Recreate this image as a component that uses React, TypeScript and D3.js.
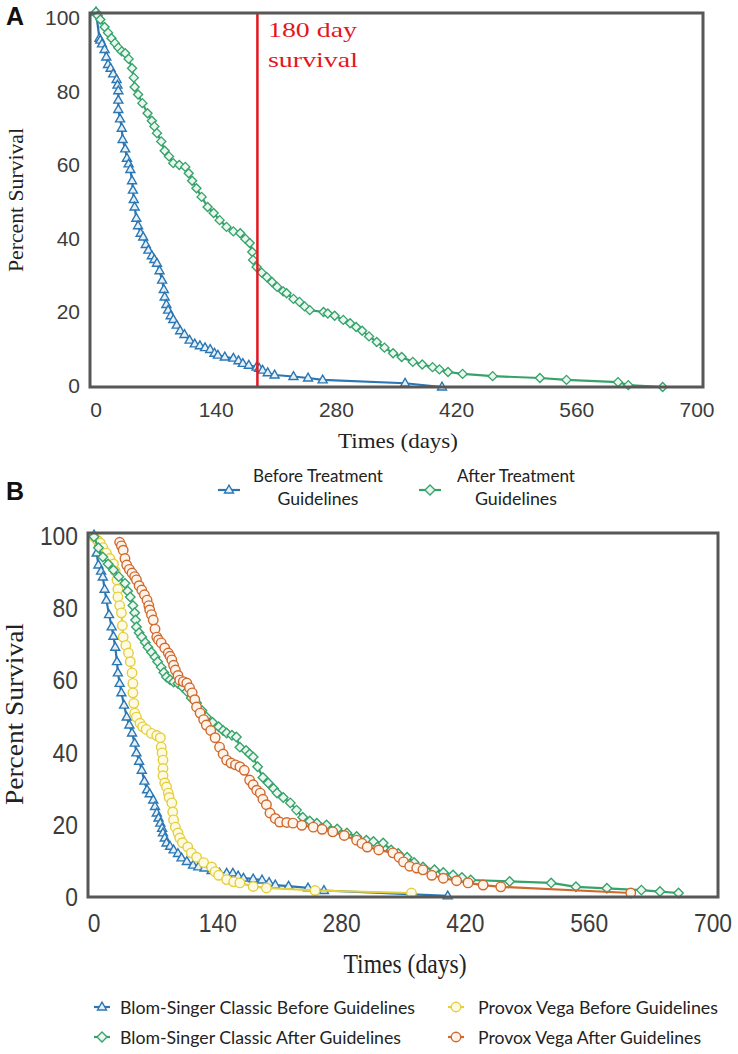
import React from "react";
import * as d3 from "d3";

// ---------- shared ticks ----------
const xTicks = [0, 140, 280, 420, 560, 700];
const yTicks = [0, 20, 40, 60, 80, 100];

// ---------- Panel A data ----------
const aBeforeDays = [0, 4, 5, 7, 10, 12, 14, 17, 20, 24, 25, 26, 26, 26, 28, 30, 31, 34, 36, 38, 40, 42, 43, 44, 45, 47, 49, 52, 55, 58, 61, 65, 68, 71, 74, 77, 79, 80, 82, 84, 87, 90, 94, 98, 103, 109, 115, 121, 127, 133, 138, 142, 150, 160, 166, 171, 178, 187, 190, 194, 200, 208, 230, 247, 264, 360, 403];
const aBeforePct = [100, 93, 92.5, 91.5, 90, 88, 86, 85, 83.5, 82, 80.5, 79, 76.5, 74, 71.5, 69, 66, 63.5, 61, 59.5, 58, 55, 52.5, 50, 48, 45, 43, 41, 40, 38, 36.5, 35, 34, 33, 31, 28.5, 26, 24, 22, 20.5, 19, 18, 16.5, 15, 14, 12.5, 11.5, 11, 10.5, 10, 9, 8.5, 8, 7.7, 7, 6.3, 5.8, 5.3, 5, 4.5, 3.8, 3.2, 2.8, 2.4, 1.9, 1.0, 0];

const aAfterDays = [0, 2, 5, 10, 14, 18, 22, 26, 30, 34, 38, 42, 44, 45, 49, 54, 60, 65, 68, 71, 76, 80, 85, 90, 97, 104, 108, 112, 117, 123, 130, 137, 144, 152, 160, 168, 174, 179, 182, 183, 187, 193, 199, 205, 211, 218, 222, 230, 237, 243, 249, 265, 270, 278, 288, 296, 303, 310, 318, 327, 336, 346, 356, 369, 380, 392, 400, 410, 427, 462, 517, 548, 608, 620, 660];
const aAfterPct = [100, 99, 98, 96, 94.5, 93, 91.7, 90.5, 89.5, 89, 87.5, 85, 82.5, 80, 78, 75.7, 73, 71, 69.5, 67.7, 65.5, 63, 61.5, 59.7, 59.2, 58.7, 57, 55, 53, 50.7, 48, 46.4, 44.5, 42.7, 41.5, 41, 39.5, 38.4, 36, 33.9, 32, 30.5, 29.3, 28, 26.7, 25.5, 25, 23.5, 22.7, 21.5, 20.5, 20, 19.6, 19, 17.9, 17, 16, 15, 13.5, 12, 10.5, 9, 8, 6.7, 6, 5.3, 4.7, 4, 3.5, 2.9, 2.4, 1.9, 1.3, 0.5, 0];

const redLineDay = 188;

// ---------- Panel B data ----------
const bBlueDays = [0, 3, 5, 8, 10, 12, 14, 17, 20, 22, 24, 26, 27, 29, 31, 34, 37, 40, 43, 46, 48, 51, 54, 57, 60, 63, 67, 69, 71, 73, 75, 77, 78, 80, 82, 86, 90, 95, 99, 105, 112, 118, 125, 133, 142, 150, 157, 163, 169, 180, 190, 198, 205, 220, 242, 260, 400];
const bBluePct = [100, 95, 91.7, 90, 88.4, 85, 82, 78, 74.6, 72, 69, 65, 61.9, 59, 56.4, 53, 49.7, 47.5, 45.3, 42.5, 39.8, 37.5, 35, 32, 29.6, 28.5, 26.8, 25, 23.2, 21.8, 20.4, 19, 17.7, 16.3, 14.9, 14, 13, 12, 10.8, 9.8, 8.8, 8.3, 8, 7.3, 6.6, 6.6, 6.6, 5.8, 5.2, 5, 4.7, 4, 3.3, 3, 2.5, 1.8, 0.3];

const bGreenDays = [0, 5, 10, 16, 22, 28, 35, 38, 41, 44, 46, 47, 48, 51, 54, 58, 61, 65, 69, 72, 76, 79, 82, 86, 90, 95, 100, 105, 110, 116, 122, 127, 134, 141, 146, 150, 156, 161, 165, 172, 176, 180, 185, 191, 197, 203, 207, 214, 222, 229, 236, 244, 252, 263, 275, 286, 297, 308, 316, 327, 336, 344, 354, 362, 372, 385, 395, 406, 416, 426, 470, 517, 545, 580, 619, 640, 661];
const bGreenPct = [99.5, 96.5, 93.9, 92, 90.3, 88.5, 86.7, 84.5, 82.9, 80.5, 78.5, 76.5, 74.6, 73, 71.8, 70.3, 69, 67.6, 66.3, 65, 63.5, 62, 60.8, 60, 59.4, 59, 58, 56.8, 55, 53.6, 51.5, 49.7, 48.3, 47, 46, 45.3, 44.7, 44.2, 41.4, 40.5, 39.5, 38.7, 36, 33, 31.5, 30, 28.7, 27.5, 26, 24, 22, 21, 20.4, 19.9, 18.8, 17.7, 16.7, 15.7, 15.3, 14.9, 13, 12, 11, 9.5, 8.3, 7.5, 6.8, 6.1, 5.4, 4.7, 4.3, 3.9, 2.8, 2.4, 1.9, 1.5, 1.1];

const bYellowDays = [0, 4, 7, 10, 14, 18, 22, 24, 26, 27, 27, 29, 31, 32, 33, 36, 39, 41, 43, 44, 44, 45, 46, 48, 52, 55, 59, 65, 71, 75, 76, 77, 78, 78, 78, 80, 82, 84, 85, 88, 89, 90, 92, 95, 97, 100, 106, 110, 116, 124, 133, 137, 141, 150, 158, 165, 180, 195, 250, 359];
const bYellowPct = [99.5, 98.5, 97.8, 96.5, 95, 93.5, 92, 90, 87.6, 85, 82.9, 80.5, 78.5, 75, 71.8, 69.5, 67.4, 65, 61.9, 59, 56.4, 53.5, 50.8, 49.7, 48, 47, 46.3, 45.2, 44.6, 44, 41.4, 39.8, 37.8, 35.5, 33.5, 31.5, 30.4, 28.7, 27.5, 26, 23.5, 21.3, 19.3, 17.7, 16.3, 15, 13.8, 12.2, 11, 9.5, 8.3, 7, 6, 4.8, 4.2, 3.9, 2.9, 2.5, 1.8, 1.1];

const bOrangeDays = [29, 31, 33, 35, 37, 40, 43, 46, 48, 51, 54, 57, 60, 62, 63, 65, 67, 69, 71, 73, 76, 80, 84, 86, 88, 90, 92, 95, 97, 101, 105, 108, 111, 114, 116, 120, 124, 127, 132, 137, 142, 146, 150, 155, 160, 165, 170, 176, 180, 184, 188, 191, 195, 199, 205, 210, 218, 225, 235, 248, 258, 270, 283, 297, 303, 309, 322, 338, 345, 350, 357, 365, 372, 382, 395, 410, 423, 440, 460, 607];
const bOrangePct = [98, 97, 95.8, 93.5, 91.7, 90.5, 89.5, 88.5, 87.6, 86, 84.8, 83.5, 82, 80.5, 79.3, 78, 76.5, 74, 71.8, 71, 70.2, 68.8, 67.4, 66.5, 65.5, 64, 62.7, 61.2, 59.9, 59.5, 59.1, 57.8, 56.4, 54.5, 52.5, 50.8, 49, 47.5, 46, 44, 41.4, 39.5, 37.8, 37, 36.5, 36, 35, 32.3, 31, 29.5, 28.7, 27, 25.5, 23.2, 21.7, 20.7, 20.6, 20.4, 19.8, 19.3, 18.7, 18, 17, 15.7, 14.8, 13.8, 13, 12.2, 11, 9.7, 8.5, 8, 7.5, 6, 5.2, 4.5, 3.9, 3.3, 2.8, 1.1];

// ---------- styles ----------
const BLUE = "#2b77b3";
const BLUE_FILL = "#e6f0f8";
const GREEN = "#36a36b";
const GREEN_FILL = "#eaf6ef";
const YELLOW = "#e4cf3f";
const YELLOW_FILL = "#fffbe3";
const ORANGE = "#cf6a2e";
const ORANGE_FILL = "#fff3ea";
const FRAME = "#575757";
const TICK_TXT = "#3c3c3c";

type Kind = "tri" | "dia" | "circ";
type Series = { days: number[]; pct: number[]; color: string; fill: string; kind: Kind; size: number };

function markerPath(kind: Kind, s: number): string {
  if (kind === "tri") {
    const h = s * 0.866;
    return `M0,${-h * 0.62}L${s / 2},${h * 0.38}L${-s / 2},${h * 0.38}Z`;
  }
  if (kind === "dia") {
    const r = s / 2;
    return `M0,${-r}L${r},0L0,${r}L${-r},0Z`;
  }
  const r = s / 2;
  return `M${-r},0A${r},${r} 0 1,0 ${r},0A${r},${r} 0 1,0 ${-r},0Z`;
}

function SeriesMarks({ s, x, y }: { s: Series; x: d3.ScaleLinear<number, number>; y: d3.ScaleLinear<number, number> }) {
  const pts: [number, number][] = s.days.map((d, i) => [d, s.pct[i]]);
  const line = d3.line<[number, number]>().x((p) => x(p[0])).y((p) => y(p[1]));
  const mp = markerPath(s.kind, s.size);
  return (
    <g>
      <path d={line(pts) || ""} fill="none" stroke={s.color} strokeWidth={2.2} strokeLinejoin="round" />
      {pts.map((p, i) => (
        <path key={i} d={mp} transform={`translate(${x(p[0])},${y(p[1])})`} fill={s.fill} stroke={s.color} strokeWidth={1.4} />
      ))}
    </g>
  );
}

function LegendIcon({ cx, cy, color, fill, kind, size, half }: { cx: number; cy: number; color: string; fill: string; kind: Kind; size: number; half: number }) {
  return (
    <g>
      <line x1={cx - half} x2={cx + half} y1={cy} y2={cy} stroke={color} strokeWidth={2.2} />
      <path d={markerPath(kind, size)} transform={`translate(${cx},${cy})`} fill={fill} stroke={color} strokeWidth={1.4} />
    </g>
  );
}

export default function App() {
  // Panel A scales
  const xA = d3.scaleLinear().domain([0, 700]).range([96, 697]);
  const yA = d3.scaleLinear().domain([0, 100]).range([387, 12]);
  const yALab = d3.scaleLinear().domain([0, 100]).range([393, 25]);
  // Panel B scales
  const xB = d3.scaleLinear().domain([0, 700]).range([94, 713]);
  const yB = d3.scaleLinear().domain([0, 100]).range([897, 535]);
  const yBLab = d3.scaleLinear().domain([0, 100]).range([906, 545]);

  const seriesA: Series[] = [
    { days: aBeforeDays, pct: aBeforePct, color: BLUE, fill: BLUE_FILL, kind: "tri", size: 9 },
    { days: aAfterDays, pct: aAfterPct, color: GREEN, fill: GREEN_FILL, kind: "dia", size: 9 },
  ];
  const seriesB: Series[] = [
    { days: bBlueDays, pct: bBluePct, color: BLUE, fill: BLUE_FILL, kind: "tri", size: 9 },
    { days: bYellowDays, pct: bYellowPct, color: YELLOW, fill: YELLOW_FILL, kind: "circ", size: 9.5 },
    { days: bGreenDays, pct: bGreenPct, color: GREEN, fill: GREEN_FILL, kind: "dia", size: 9.5 },
    { days: bOrangeDays, pct: bOrangePct, color: ORANGE, fill: ORANGE_FILL, kind: "circ", size: 9.5 },
  ];

  const sans = "'Liberation Sans', Arial, sans-serif";
  const serif = "'Liberation Serif', 'Times New Roman', serif";
  const legendFont = "Lato, 'Open Sans', sans-serif";

  return (
    <svg width={738} height={1054} style={{ position: "absolute", left: 0, top: 0, background: "#fff" }}>
      <rect x={0} y={0} width={738} height={1054} fill="#fff" />

      {/* ================= Panel A ================= */}
      <text x={6} y={25} fontFamily={sans} fontWeight="bold" fontSize={25} fill="#111">A</text>
      <g>
        {seriesA.map((s, i) => (
          <SeriesMarks key={i} s={s} x={xA} y={yA} />
        ))}
        <line x1={xA(redLineDay)} x2={xA(redLineDay)} y1={13} y2={387} stroke="#e3171f" strokeWidth={2.5} />
        <text x={268} y={37} fontFamily={serif} fontSize={21} fill="#e3171f" textLength={89} lengthAdjust="spacingAndGlyphs">180 day</text>
        <text x={268} y={67} fontFamily={serif} fontSize={21} fill="#e3171f" textLength={90} lengthAdjust="spacingAndGlyphs">survival</text>
        <rect x={90} y={13} width={613} height={374} fill="none" stroke={FRAME} strokeWidth={3} />
        {yTicks.map((t) => (
          <text key={t} x={80} y={yALab(t)} textAnchor="end" fontFamily={sans} fontSize={21} fill={TICK_TXT}>{t}</text>
        ))}
        {xTicks.map((t) => (
          <text key={t} x={xA(t)} y={417} textAnchor="middle" fontFamily={sans} fontSize={21} fill={TICK_TXT}>{t}</text>
        ))}
        <text transform="translate(23,200) rotate(-90)" textAnchor="middle" fontFamily={serif} fontSize={22} fill="#222" textLength={144} lengthAdjust="spacingAndGlyphs">Percent Survival</text>
        <text x={398} y={448} textAnchor="middle" fontFamily={serif} fontSize={22} fill="#222" textLength={120} lengthAdjust="spacingAndGlyphs">Times (days)</text>

        <LegendIcon cx={229} cy={490} color={BLUE} fill={BLUE_FILL} kind="tri" size={9} half={11} />
        <text x={318} y={482} textAnchor="middle" fontFamily={legendFont} fontSize={17} fill="#222" textLength={130} lengthAdjust="spacingAndGlyphs">Before Treatment</text>
        <text x={318} y={505} textAnchor="middle" fontFamily={legendFont} fontSize={17} fill="#222" textLength={81} lengthAdjust="spacingAndGlyphs">Guidelines</text>
        <LegendIcon cx={430} cy={490} color={GREEN} fill={GREEN_FILL} kind="dia" size={10} half={11} />
        <text x={516} y={482} textAnchor="middle" fontFamily={legendFont} fontSize={17} fill="#222" textLength={118} lengthAdjust="spacingAndGlyphs">After Treatment</text>
        <text x={516} y={505} textAnchor="middle" fontFamily={legendFont} fontSize={17} fill="#222" textLength={82} lengthAdjust="spacingAndGlyphs">Guidelines</text>
      </g>

      {/* ================= Panel B ================= */}
      <text x={6} y={500} fontFamily={sans} fontWeight="bold" fontSize={25} fill="#111">B</text>
      <g>
        {seriesB.map((s, i) => (
          <SeriesMarks key={i} s={s} x={xB} y={yB} />
        ))}
        <rect x={88} y={533} width={630} height={364} fill="none" stroke={FRAME} strokeWidth={3} />
        {yTicks.map((t) => (
          <text key={t} x={78} y={yBLab(t)} textAnchor="end" fontFamily={sans} fontSize={25} fill={TICK_TXT} textLength={String(t).length * 12.7} lengthAdjust="spacingAndGlyphs">{t}</text>
        ))}
        {xTicks.map((t) => (
          <text key={t} x={xB(t)} y={932} textAnchor="middle" fontFamily={sans} fontSize={25} fill={TICK_TXT} textLength={String(t).length * 12.7} lengthAdjust="spacingAndGlyphs">{t}</text>
        ))}
        <text transform="translate(23,714) rotate(-90)" textAnchor="middle" fontFamily={serif} fontSize={26} fill="#222" textLength={182} lengthAdjust="spacingAndGlyphs">Percent Survival</text>
        <text x={405} y={973} textAnchor="middle" fontFamily={serif} fontSize={28} fill="#222" textLength={123} lengthAdjust="spacingAndGlyphs">Times (days)</text>

        <LegendIcon cx={102} cy={1007} color={BLUE} fill={BLUE_FILL} kind="tri" size={9} half={8} />
        <text x={120} y={1014} fontFamily={legendFont} fontSize={17} fill="#222" textLength={295} lengthAdjust="spacingAndGlyphs">Blom-Singer Classic Before Guidelines</text>
        <LegendIcon cx={102} cy={1037} color={GREEN} fill={GREEN_FILL} kind="dia" size={10} half={8} />
        <text x={120} y={1044} fontFamily={legendFont} fontSize={17} fill="#222" textLength={281} lengthAdjust="spacingAndGlyphs">Blom-Singer Classic After Guidelines</text>
        <LegendIcon cx={456} cy={1007} color={YELLOW} fill={YELLOW_FILL} kind="circ" size={9.5} half={8} />
        <text x={478} y={1014} fontFamily={legendFont} fontSize={17} fill="#222" textLength={240} lengthAdjust="spacingAndGlyphs">Provox Vega Before Guidelines</text>
        <LegendIcon cx={456} cy={1037} color={ORANGE} fill={ORANGE_FILL} kind="circ" size={9.5} half={8} />
        <text x={478} y={1044} fontFamily={legendFont} fontSize={17} fill="#222" textLength={223} lengthAdjust="spacingAndGlyphs">Provox Vega After  Guidelines</text>
      </g>
    </svg>
  );
}
